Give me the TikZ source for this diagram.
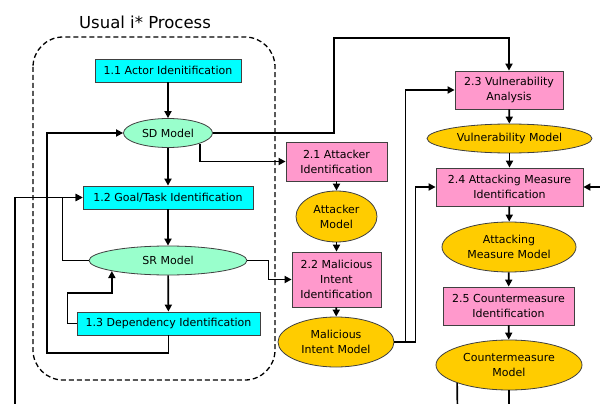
\documentclass[tikz,border=0pt]{standalone}
\usepackage{fontspec}
\setmainfont{DejaVu Sans}
\usetikzlibrary{shapes.geometric,arrows.meta}
\definecolor{cyanbox}{HTML}{00FFFF}
\definecolor{aqua}{HTML}{99FFCC}
\definecolor{pinkbox}{HTML}{FF99CC}
\definecolor{goldell}{HTML}{FFCC00}
\definecolor{edge}{HTML}{404040}
\begin{document}
\begin{tikzpicture}[x=1pt,y=-1pt,
  lbl/.style={font=\fontsize{11}{15}\selectfont, align=center, inner sep=0pt, text=black},
  cbox/.style={lbl, rectangle, draw=edge, line width=0.8pt, fill=cyanbox},
  pbox/.style={lbl, rectangle, draw=edge, line width=0.8pt, fill=pinkbox},
  gell/.style={lbl, ellipse, draw=edge, line width=0.8pt, fill=aqua},
  yell/.style={lbl, ellipse, draw=edge, line width=0.8pt, fill=goldell},
  arr/.style={draw=black, line width=1.7pt, -{Triangle[length=7pt,width=7pt]}},
  plain/.style={draw=black, line width=1.7pt}]
\useasboundingbox (0,0) rectangle (600,404);
\fill[white] (0,0) rectangle (600,404);

% usual i* process frame
\node[font=\fontsize{16.5}{18}\selectfont, inner sep=0pt] (title) at (145,22.5) {Usual i* Process};
\draw[black, line width=1.3pt, dash pattern=on 5pt off 3pt, rounded corners=30pt] (33,37) rectangle (275,380);

% left column
\node[cbox, minimum width=146pt, minimum height=23pt] (a11) at (168,70.5) {1.1 Actor Idenitification};
\node[gell, minimum width=89pt, minimum height=29pt] (sd) at (168,133) {SD Model};
\node[cbox, minimum width=170pt, minimum height=23pt] (g12) at (168,197.5) {1.2 Goal/Task Identification};
\node[gell, minimum width=158pt, minimum height=29pt] (sr) at (168,260.5) {SR Model};
\node[cbox, minimum width=183pt, minimum height=23pt] (d13) at (168.5,323.5) {1.3 Dependency Identification};

% middle column
\node[pbox, minimum width=101pt, minimum height=39pt] (a21) at (336.5,161.5) {2.1 Attacker\\Identification};
\node[yell, minimum width=81pt, minimum height=51pt] (am) at (336.5,216.5) {Attacker\\Model};
\node[pbox, minimum width=89pt, minimum height=55pt] (a22) at (336.5,279.5) {2.2 Malicious\\Intent\\Identification};
\node[yell, minimum width=116pt, minimum height=50pt] (mim) at (336,342) {Malicious\\Intent Model};

% right column
\node[pbox, minimum width=108pt, minimum height=38pt] (a23) at (509,90) {2.3 Vulnerability\\Analysis};
\node[yell, minimum width=165pt, minimum height=29pt] (vm) at (509.5,138.5) {Vulnerability Model};
\node[pbox, minimum width=147pt, minimum height=38pt] (a24) at (509.5,187) {2.4 Attacking Measure\\Identification};
\node[yell, minimum width=134pt, minimum height=50pt] (amm) at (509,247) {Attacking\\Measure Model};
\node[pbox, minimum width=131pt, minimum height=38pt] (a25) at (508.5,306) {2.5 Countermeasure\\Identification};
\node[yell, minimum width=146pt, minimum height=50pt] (cm) at (509,365) {Countermeasure\\Model};

\coordinate (extL) at (15,404);
\coordinate (extR) at (600,187);
\coordinate (cmb1) at (457.4,404);
\coordinate (cmb2) at (509,404);

% left column connectors
\draw[arr] (a11) -- (sd);
\draw[arr] (sd) -- (g12);
\draw[arr] (g12) -- (sr);
\draw[arr] (sr) -- (d13);
\draw[arr] (d13.south) |- (47,353) |- (sd.west);
\draw[arr] (sr.west) -- ++(-26,0) |- (g12.west);
\draw[arr] (d13.west) -- ++(-9,0) -- ++(0,-30.5) -| (sr.south west);
\draw[arr] (extL) |- (g12.west);

% cross connectors
\draw[arr] (sd.east) -| (334,38) -| (a23.north);
\draw[arr] (sd.south east) |- (a21.west);
\draw[arr] (sr.east) -- ++(21,0) |- (a22.west);
\draw[arr] (mim.east) -- ++(11,0) |- (a23.west);
\draw[arr] (mim.east) -- ++(21,0) |- (a24.west);
\draw[arr] (extR) -- (a24.east);

% middle column
\draw[arr] (a21) -- (am);
\draw[arr] (am) -- (a22);
\draw[arr] (a22) -- (mim);

% right column
\draw[arr] (a23) -- (vm);
\draw[arr] (vm) -- (a24);
\draw[arr] (a24) -- (amm);
\draw[arr] (amm) -- (a25);
\draw[arr] (a25) -- (cm);
\draw[plain] (cm.south west) -- (cmb1);
\draw[plain] (cm.south) -- (cmb2);
\end{tikzpicture}
\end{document}
